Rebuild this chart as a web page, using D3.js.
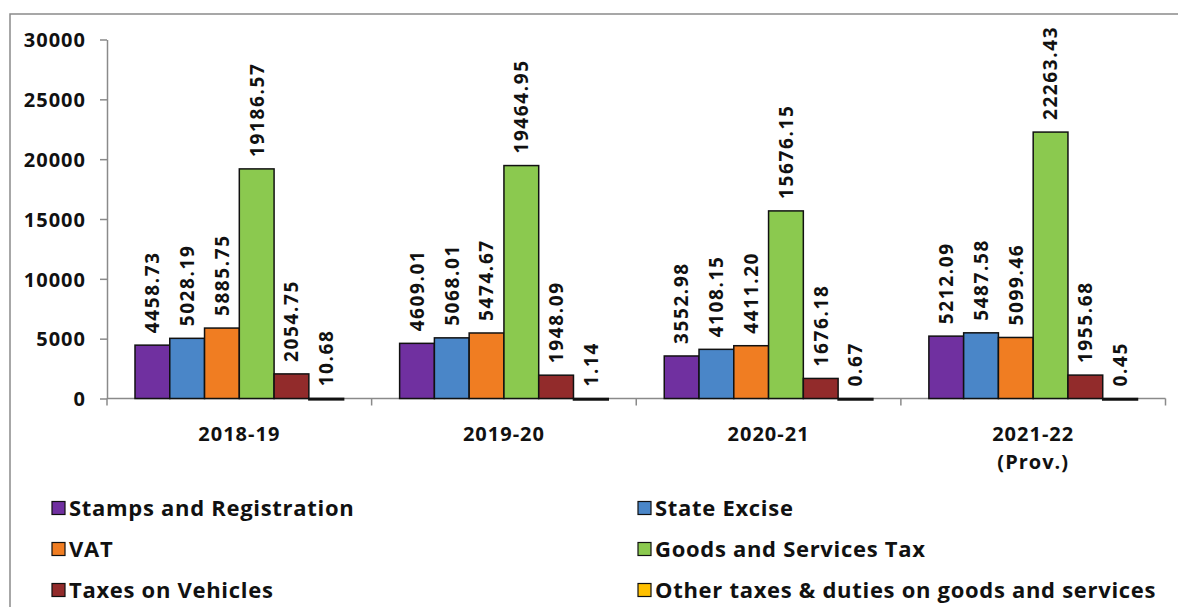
<!DOCTYPE html>
<html>
<head>
<meta charset="utf-8">
<script src="https://cdn.jsdelivr.net/npm/d3@7"></script>
<style>
  body { margin: 0; background: #fff; }
  svg { display: block; }
  .num { font-family: "Open Sans", sans-serif; font-weight: 700; fill: #111; }
  .legend text { font-family: "Open Sans", sans-serif; font-weight: 700; fill: #111; }
</style>
</head>
<body>
<div id="vis"></div>
<script>
// years along the x axis
var years = ["2018-19", "2019-20", "2020-21", "2021-22"];
var yearNotes = ["", "", "", "(Prov.)"];

// series names, in bar order
var series = [
  "Stamps and Registration",
  "State Excise",
  "VAT",
  "Goods and Services Tax",
  "Taxes on Vehicles",
  "Other taxes & duties on goods and services"
];
var colors = ["#7030A0", "#4A86C8", "#F07D22", "#8BC94F", "#922B2B", "#FFC000"];

// values per series, one per year
var stamps   = [4458.73, 4609.01, 3552.98, 5212.09];
var excise   = [5028.19, 5068.01, 4108.15, 5487.58];
var vat      = [5885.75, 5474.67, 4411.20, 5099.46];
var gst      = [19186.57, 19464.95, 15676.15, 22263.43];
var vehicles = [2054.75, 1948.09, 1676.18, 1955.68];
var others   = [10.68, 1.14, 0.67, 0.45];

var yTicks = [0, 5000, 10000, 15000, 20000, 25000, 30000];

var values = [stamps, excise, vat, gst, vehicles, others];

var W = 1178, H = 607;
var svg = d3.select("#vis").append("svg")
  .attr("width", W)
  .attr("height", H);

// outer frame (runs off right and bottom edges)
svg.append("rect")
  .attr("x", 10).attr("y", 14)
  .attr("width", W + 20).attr("height", H + 20)
  .attr("fill", "none")
  .attr("stroke", "#8a8a8a")
  .attr("stroke-width", 1.5);

var x0 = d3.scaleBand().domain(years).range([107, 1165.5]).padding(0);
var x1 = d3.scaleBand().domain(d3.range(series.length)).range([28, x0.bandwidth() - 28]).padding(0);
var y = d3.scaleLinear().domain([0, 30000]).range([398.5, 39.5]);

// y axis
var yAxis = svg.append("g")
  .attr("transform", "translate(107,0)")
  .call(d3.axisLeft(y).tickValues(yTicks).tickFormat(d3.format("d"))
    .tickSize(7).tickSizeOuter(0).tickPadding(14));
yAxis.select(".domain").attr("stroke", "#8a8a8a").attr("stroke-width", 1.5);
yAxis.selectAll(".tick line").attr("stroke", "#8a8a8a").attr("stroke-width", 1.5);
yAxis.selectAll(".tick text")
  .attr("class", "num")
  .style("font-size", "20px")
  .style("letter-spacing", "1px")
  .attr("dy", "0.36em");

// x axis
var xAxis = svg.append("g")
  .attr("transform", "translate(0," + y(0) + ")");
xAxis.append("line")
  .attr("x1", 107).attr("x2", 1165.5)
  .attr("stroke", "#8a8a8a").attr("stroke-width", 1.5);
xAxis.selectAll("line.tk")
  .data(years.concat(["end"]))
  .enter().append("line")
  .attr("class", "tk")
  .attr("x1", function(d, i) { return i < years.length ? x0(d) : x0.range()[1]; })
  .attr("x2", function(d, i) { return i < years.length ? x0(d) : x0.range()[1]; })
  .attr("y1", 0).attr("y2", 7)
  .attr("stroke", "#8a8a8a").attr("stroke-width", 1.5);

var catLabels = svg.append("g").selectAll("g")
  .data(years)
  .enter().append("g")
  .attr("transform", function(d) { return "translate(" + (x0(d) + x0.bandwidth() / 2) + ",0)"; });
catLabels.append("text")
  .attr("class", "num")
  .attr("y", 441)
  .attr("text-anchor", "middle")
  .style("font-size", "20px")
  .style("letter-spacing", "1px")
  .text(function(d) { return d; });
catLabels.append("text")
  .attr("class", "num")
  .attr("y", 469)
  .attr("text-anchor", "middle")
  .style("font-size", "20px")
  .style("letter-spacing", "1px")
  .text(function(d, i) { return yearNotes[i]; });

// bars
var groups = svg.append("g").selectAll("g.year")
  .data(years)
  .enter().append("g")
  .attr("class", "year")
  .attr("transform", function(d) { return "translate(" + x0(d) + ",0)"; });

groups.selectAll("rect")
  .data(function(d, yi) { return values.map(function(v, si) { return {s: si, v: v[yi]}; }); })
  .enter().append("rect")
  .attr("x", function(d) { return x1(d.s); })
  .attr("width", x1.bandwidth())
  .attr("y", function(d) { return y(d.v); })
  .attr("height", function(d) { return Math.max(1.5, y(0) - y(d.v)); })
  .attr("fill", function(d) { return colors[d.s]; })
  .attr("stroke", "#111")
  .attr("stroke-width", 1.5);

groups.selectAll("text.val")
  .data(function(d, yi) { return values.map(function(v, si) { return {s: si, v: v[yi]}; }); })
  .enter().append("text")
  .attr("class", "val num")
  .style("font-size", "19px")
  .style("letter-spacing", "1.6px")
  .attr("transform", function(d) {
    return "translate(" + (x1(d.s) + x1.bandwidth() / 2) + "," + (y(d.v) - 12) + ") rotate(-90)";
  })
  .attr("dy", "0.36em")
  .text(function(d) { return d.v.toFixed(2); });

// legend
var legend = svg.append("g").attr("class", "legend");
var legItems = legend.selectAll("g")
  .data(series)
  .enter().append("g")
  .attr("transform", function(d, i) {
    var col = i % 2, row = Math.floor(i / 2);
    return "translate(" + (col === 0 ? 52 : 638) + "," + (508 + row * 41) + ")";
  });
legItems.append("rect")
  .attr("x", 0).attr("y", -6.5)
  .attr("width", 13).attr("height", 13)
  .attr("fill", function(d, i) { return colors[i]; })
  .attr("stroke", "#111")
  .attr("stroke-width", 1.2);
legItems.append("text")
  .attr("x", 17)
  .attr("dy", "0.36em")
  .style("font-size", "22px")
  .style("letter-spacing", "0.7px")
  .text(function(d) { return d; });
</script>
</body>
</html>
